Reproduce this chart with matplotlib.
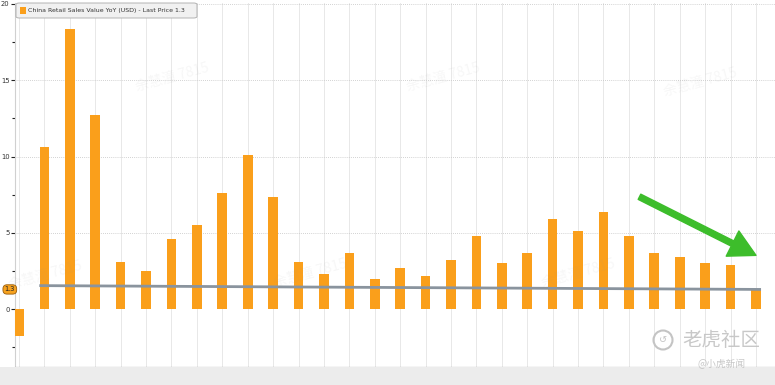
import matplotlib
matplotlib.use("Agg")
import matplotlib.pyplot as plt
import numpy as np
from matplotlib.patches import FancyBboxPatch, Rectangle, FancyArrowPatch, Ellipse

# ---- data ----
labels = ['12/31', '...', '4/30', '5/31', '6/30', '7/31', '8/31', '9/30', '10/31', '11/30',
          '12/31', '3/31', '4/30', '5/31', '6/30', '7/31', '8/31', '9/30', '10/31', '11/30',
          '12/31', '3/31', '4/30', '5/31', '6/30', '7/31', '8/31', '9/30', '10/31', '11/30']
values = [-1.75, 10.6, 18.35, 12.7, 3.1, 2.5, 4.6, 5.5, 7.6, 10.1,
          7.35, 3.1, 2.3, 3.7, 2.0, 2.7, 2.15, 3.25, 4.8, 3.0,
          3.7, 5.9, 5.1, 6.4, 4.8, 3.7, 3.45, 3.0, 2.9, 1.3]
trend_x = [0.8, 29.2]
trend_y = [1.55, 1.30]
last_price = 1.3
yticks = [0, 5, 10, 15, 20]
legend_label = 'China Retail Sales Value YoY (USD) - Last Price 1.3'

W, H = 775, 385
fig = plt.figure(figsize=(W / 100, H / 100), dpi=100, facecolor='white')

def fx(px):
    return px / W

def fy(py):
    return 1 - py / H

# gray band at bottom
fig.patches.append(Rectangle((0, 0), 1, 18 / H, transform=fig.transFigure,
                             facecolor='#ececec', edgecolor='none', zorder=0))

ax = fig.add_axes([fx(15), fy(367), 1 - fx(15), (367 - 3) / H])
ax.set_facecolor('white')

x = np.arange(len(values))
ax.bar(x, values, width=0.38, color='#fa9f1b', zorder=3)
ax.plot(trend_x, trend_y, color='#8a949e', lw=2.0, zorder=4, solid_capstyle='butt')

ax.set_xlim(-0.157, 29.75)
ax.set_ylim(-3.78, 20.06)

# grid
for xi in x:
    ax.axvline(xi, color='#e4e4e4', lw=0.6, zorder=1)
for yv in yticks[1:]:
    ax.axhline(yv, color='#c4c4c4', lw=0.6, ls=(0, (1, 1.5)), zorder=1)

ax.set_yticks(yticks)
ax.set_yticks(np.arange(-2.5, 20, 2.5), minor=True)
ax.set_yticklabels([str(v) for v in yticks], fontsize=4.9, color='#333333',
                   family='DejaVu Sans')
ax.tick_params(axis='y', which='major', length=3, width=0.8, color='#222222', pad=1)
ax.tick_params(axis='y', which='minor', length=2.5, width=0.8, color='#222222')
ax.set_xticks(x)
ax.set_xticklabels(labels, fontsize=4.9, color='#333333', family='DejaVu Sans')
ax.tick_params(axis='x', length=0, pad=2)

for s in ['top', 'right']:
    ax.spines[s].set_visible(False)
ax.spines['left'].set_color('#d0d0d0')
ax.spines['left'].set_linewidth(0.8)
ax.spines['bottom'].set_color('#555555')
ax.spines['bottom'].set_linewidth(0.8)

# last price tag
ax.text(-0.0, last_price, '1.3', transform=ax.get_yaxis_transform(),
        ha='right', va='center', fontsize=4.8, color='#222222',
        bbox=dict(boxstyle='round,pad=0.25,rounding_size=0.6', fc='#f7a21e', ec='#9a5c08', lw=0.6),
        zorder=6, clip_on=False)

# legend box
fig.patches.append(FancyBboxPatch((fx(16), fy(18)), fx(181), 15 / H,
                                  boxstyle='round,pad=0,rounding_size=0.004',
                                  transform=fig.transFigure, facecolor='#f1f1f1',
                                  edgecolor='#a8a8a8', lw=0.6, zorder=5))
fig.patches.append(Rectangle((fx(20), fy(13.5)), fx(6), 6 / H, transform=fig.transFigure,
                             facecolor='#fa9f1b', edgecolor='none', zorder=6))
fig.text(fx(28.5), fy(10.5), legend_label, fontsize=4.5, color='#333333',
         ha='left', va='center', family='DejaVu Sans', zorder=7)

# green arrow
arrow = FancyArrowPatch((24.32, 7.45), (29.1, 3.45),
                        arrowstyle='simple,head_length=1.35,head_width=1.45,tail_width=0.3',
                        mutation_scale=14, color='#3dbd2b', zorder=8, clip_on=False)
ax.add_patch(arrow)

# watermarks
cjk = ['Noto Sans CJK SC', 'DejaVu Sans']
for (px, py) in [(172, 77), (443, 77), (700, 82), (45, 275), (310, 273), (578, 273)]:
    fig.text(fx(px), fy(py), '余慧潼 7815', fontsize=10, color='#999999', alpha=0.08,
             rotation=15, ha='center', va='center', family=cjk, zorder=9)

fig.patches.append(Ellipse((fx(663), fy(340)), 19 / W, 19 / H, transform=fig.transFigure,
                           facecolor='none', edgecolor='#c4c4c4', lw=1.5, zorder=9))
fig.text(fx(663), fy(340), '↺', fontsize=7, color='#c4c4c4',
         ha='center', va='center', family='DejaVu Sans', zorder=9)
fig.text(fx(721), fy(341), '老虎社区', fontsize=14, color='#c2c2c2', alpha=0.9,
         ha='center', va='center', family=cjk, zorder=9)
fig.text(fx(722), fy(364), '@小虎新闻', fontsize=7, color='#bbbbbb', alpha=0.8,
         ha='center', va='center', family=cjk, zorder=9)

fig.savefig('out.png', dpi=100, facecolor=fig.get_facecolor())
